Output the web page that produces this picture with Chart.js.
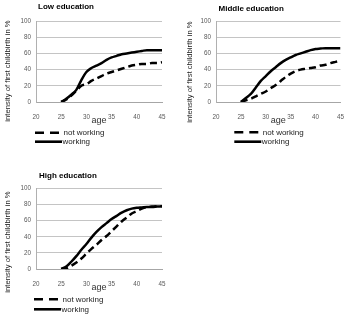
<!DOCTYPE html>
<html>
<head>
<meta charset="utf-8">
<script src="https://cdn.jsdelivr.net/npm/chart.js@4/dist/chart.umd.min.js"></script>
<style>
  body { margin: 0; background: #fff; }
  #wrap { position: relative; width: 347px; height: 329px; }
  canvas { position: absolute; }
</style>
</head>
<body>
<div id="wrap">
  <canvas id="low" width="175" height="165" style="left:0;top:0;width:175px;height:165px"></canvas>
  <canvas id="mid" width="172" height="165" style="left:175px;top:0;width:172px;height:165px"></canvas>
  <canvas id="high" width="175" height="164" style="left:0;top:165px;width:175px;height:164px"></canvas>
</div>
<script>
const ages = [25, 26, 27, 28, 29, 30, 31, 32, 33, 34, 35, 36, 37, 38, 39, 40, 41, 42, 43, 44, 45];
const seriesNames = ['not working', 'working'];
const xTicks = [20, 25, 30, 35, 40, 45];
const yTicks = [0, 20, 40, 60, 80, 100];

const lowNotWorking = [0, 3, 8, 14, 20, 22, 26, 29, 32, 35, 37, 39, 41, 43, 45, 46, 47, 47, 48, 48, 49];
const lowWorking = [0, 4, 9, 15, 27, 37, 42, 45, 48, 52, 55, 57, 59, 60, 61, 62, 63, 64, 64, 64, 64];
const midNotWorking = [0, 2, 4, 7, 10, 13, 17, 21, 26, 31, 35, 38, 40, 41, 42, 43, 45, 46, 48, 49.5, 51];
const midWorking = [0, 5, 10, 18, 26, 32, 38, 43, 48, 52, 55, 58, 60, 62, 64, 65.5, 66, 66.5, 66.5, 66.5, 66.5];
const highNotWorking = [0, 1, 4, 8, 13, 19, 25, 30, 36, 41, 47, 53, 59, 64, 69, 72, 75, 77, 77.5, 78, 78];
const highWorking = [0, 3, 9, 16, 24, 31, 39, 46, 52, 57, 62, 66, 70, 73, 75, 76, 76.5, 77, 77, 77.5, 78];

const font = 'Liberation Sans, Arial, sans-serif';

function toPoints(vals) {
  return vals.map((v, i) => ({ x: ages[i], y: v }));
}

// draws the panel title, rotated y title and the legend
function panelPlugin(p) {
  return {
    id: 'panelDeco',
    afterDraw(chart) {
      const ctx = chart.ctx;
      ctx.save();
      ctx.fillStyle = '#000';
      ctx.font = 'bold 8px ' + font;
      ctx.textBaseline = 'middle';
      ctx.textAlign = 'left';
      ctx.fillText(p.title, p.titleX, p.titleY);

      ctx.save();
      ctx.translate(p.yTitleX, p.yTitleY);
      ctx.rotate(-Math.PI / 2);
      ctx.textAlign = 'center';
      ctx.font = '7.7px ' + font;
      ctx.fillStyle = '#222';
      ctx.fillText('intensity of first childbirth in %', 0, 0);
      ctx.restore();

      // legend
      ctx.strokeStyle = '#000';
      ctx.lineWidth = 2.6;
      ctx.setLineDash([9, 6]);
      ctx.beginPath();
      ctx.moveTo(p.legX, p.legY1);
      ctx.lineTo(p.legX + 24, p.legY1);
      ctx.stroke();
      ctx.setLineDash([]);
      ctx.beginPath();
      ctx.moveTo(p.legX, p.legY2);
      ctx.lineTo(p.legX + 27, p.legY2);
      ctx.stroke();
      ctx.font = '8px ' + font;
      ctx.fillStyle = '#222';
      ctx.fillText(seriesNames[0], p.legX + 28.5, p.legY1);
      ctx.fillText(seriesNames[1], p.legX + 27.5, p.legY2);
      ctx.restore();
    }
  };
}

function makePanel(id, notWorking, working, p) {
  new Chart(document.getElementById(id), {
    type: 'line',
    data: {
      datasets: [
        {
          label: seriesNames[0],
          data: toPoints(notWorking),
          borderColor: '#000',
          borderWidth: 2.5,
          borderDash: [7, 4],
          pointRadius: 0,
          cubicInterpolationMode: 'monotone',
          fill: false
        },
        {
          label: seriesNames[1],
          data: toPoints(working),
          borderColor: '#000',
          borderWidth: 2.5,
          pointRadius: 0,
          cubicInterpolationMode: 'monotone',
          fill: false
        }
      ]
    },
    options: {
      responsive: false,
      animation: false,
      devicePixelRatio: 1,
      layout: { padding: { top: p.padTop, right: p.padRight, bottom: p.padBottom, left: 0 } },
      plugins: { legend: { display: false }, title: { display: false }, tooltip: { enabled: false } },
      scales: {
        x: {
          type: 'linear',
          min: 20,
          max: 45,
          afterBuildTicks: (scale) => { scale.ticks = xTicks.map(v => ({ value: v })); },
          afterFit: (scale) => { scale.height = 26; },
          grid: { display: false },
          border: { display: true, color: '#a6a6a6', width: 1 },
          ticks: { padding: 3, color: '#595959', font: { size: 6.3, family: font } },
          title: {
            display: true,
            text: 'age',
            color: '#333',
            font: { size: 9, family: font },
            padding: { top: 0, bottom: 2 }
          }
        },
        y: {
          min: 0,
          max: 100,
          afterBuildTicks: (scale) => { scale.ticks = yTicks.map(v => ({ value: v })); },
          afterFit: (scale) => { scale.width = p.yWidth; },
          grid: { color: '#c4c4c4', lineWidth: 1, drawTicks: false },
          border: { display: true, color: '#b0b0b0', width: 1 },
          ticks: { padding: 5, color: '#595959', font: { size: 6.3, family: font } }
        }
      }
    },
    plugins: [panelPlugin(p)]
  });
}

makePanel('low', lowNotWorking, lowWorking, {
  title: 'Low education', titleX: 38, titleY: 7,
  yTitleX: 8, yTitleY: 71,
  legX: 35, legY1: 132.7, legY2: 141.7,
  padTop: 21, padRight: 13, padBottom: 37, yWidth: 36
});
makePanel('mid', midNotWorking, midWorking, {
  title: 'Middle education', titleX: 43.5, titleY: 9,
  yTitleX: 15, yTitleY: 72,
  legX: 59.3, legY1: 132.3, legY2: 141.7,
  padTop: 21, padRight: 5, padBottom: 37, yWidth: 41
});
makePanel('high', highNotWorking, highWorking, {
  title: 'High education', titleX: 39, titleY: 11,
  yTitleX: 8, yTitleY: 77,
  legX: 34, legY1: 134.3, legY2: 144.3,
  padTop: 23.5, padRight: 13, padBottom: 34, yWidth: 36
});
</script>
</body>
</html>
